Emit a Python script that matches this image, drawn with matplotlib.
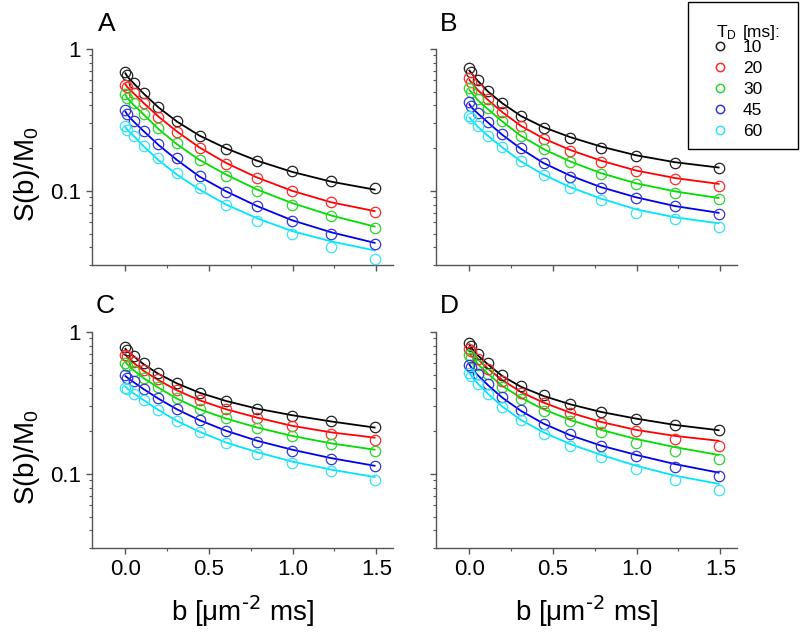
import matplotlib
matplotlib.use('Agg')
import matplotlib.pyplot as plt
from matplotlib.lines import Line2D
from matplotlib.patches import Rectangle
from matplotlib.ticker import FixedLocator, FuncFormatter, LogLocator, NullFormatter

plt.rcParams['font.family'] = ['Liberation Sans', 'DejaVu Sans']
plt.rcParams['mathtext.default'] = 'regular'

# b values [um^-2 ms]
b = [0.0, 0.012, 0.049, 0.111, 0.197, 0.308, 0.443, 0.603, 0.788, 0.997, 1.231, 1.49]
td_labels = ['10', '20', '30', '45', '60']
line_colors = ['black', '#ff0000', '#00dd00', '#0000ee', '#00e5ff']
marker_colors = ['#222222', '#ff2a2a', '#2ed62e', '#3535dd', '#35e5f0']

# measured points (circles), one list per T_D
a_meas = [
    [0.692, 0.656, 0.573, 0.487, 0.393, 0.311, 0.245, 0.198, 0.163, 0.137, 0.118, 0.104],
    [0.558, 0.543, 0.493, 0.414, 0.334, 0.259, 0.199, 0.155, 0.124, 0.099, 0.083, 0.071],
    [0.482, 0.449, 0.414, 0.348, 0.276, 0.217, 0.165, 0.128, 0.099, 0.080, 0.067, 0.055],
    [0.372, 0.348, 0.313, 0.265, 0.214, 0.170, 0.128, 0.098, 0.078, 0.061, 0.050, 0.042],
    [0.287, 0.269, 0.244, 0.207, 0.170, 0.133, 0.104, 0.079, 0.061, 0.050, 0.040, 0.033],
]
b_meas = [
    [0.731, 0.692, 0.605, 0.509, 0.419, 0.339, 0.279, 0.235, 0.202, 0.177, 0.157, 0.146],
    [0.622, 0.589, 0.520, 0.442, 0.362, 0.287, 0.231, 0.191, 0.161, 0.137, 0.121, 0.109],
    [0.528, 0.501, 0.442, 0.382, 0.313, 0.245, 0.197, 0.159, 0.132, 0.112, 0.097, 0.088],
    [0.421, 0.397, 0.356, 0.308, 0.251, 0.202, 0.157, 0.126, 0.104, 0.089, 0.078, 0.069],
    [0.337, 0.325, 0.287, 0.245, 0.205, 0.163, 0.130, 0.104, 0.086, 0.070, 0.063, 0.056],
]
c_meas = [
    [0.785, 0.752, 0.682, 0.600, 0.516, 0.439, 0.373, 0.326, 0.285, 0.256, 0.234, 0.214],
    [0.693, 0.675, 0.613, 0.536, 0.463, 0.390, 0.330, 0.285, 0.249, 0.216, 0.190, 0.173],
    [0.606, 0.580, 0.530, 0.476, 0.411, 0.344, 0.285, 0.247, 0.212, 0.185, 0.162, 0.145],
    [0.497, 0.476, 0.451, 0.398, 0.340, 0.285, 0.240, 0.199, 0.168, 0.145, 0.127, 0.113],
    [0.405, 0.394, 0.367, 0.330, 0.282, 0.236, 0.198, 0.165, 0.139, 0.120, 0.105, 0.091],
]
d_meas = [
    [0.837, 0.802, 0.705, 0.606, 0.497, 0.416, 0.357, 0.309, 0.275, 0.245, 0.220, 0.204],
    [0.760, 0.732, 0.647, 0.550, 0.451, 0.373, 0.314, 0.267, 0.227, 0.199, 0.176, 0.158],
    [0.686, 0.657, 0.590, 0.502, 0.411, 0.339, 0.278, 0.234, 0.196, 0.166, 0.145, 0.127],
    [0.590, 0.565, 0.507, 0.432, 0.348, 0.282, 0.226, 0.190, 0.156, 0.133, 0.112, 0.096],
    [0.516, 0.489, 0.432, 0.367, 0.298, 0.240, 0.192, 0.158, 0.131, 0.108, 0.090, 0.077],
]

# fitted curves (at the same b values)
a_fit = [
    [0.674, 0.638, 0.573, 0.482, 0.388, 0.308, 0.245, 0.199, 0.163, 0.136, 0.116, 0.102],
    [0.564, 0.537, 0.487, 0.414, 0.334, 0.262, 0.202, 0.157, 0.124, 0.100, 0.083, 0.072],
    [0.474, 0.449, 0.403, 0.343, 0.273, 0.213, 0.165, 0.130, 0.102, 0.082, 0.067, 0.056],
    [0.362, 0.343, 0.308, 0.262, 0.211, 0.165, 0.126, 0.099, 0.078, 0.062, 0.051, 0.043],
    [0.281, 0.269, 0.244, 0.205, 0.165, 0.130, 0.102, 0.080, 0.064, 0.052, 0.044, 0.038],
]
b_fit = [
    [0.704, 0.674, 0.598, 0.501, 0.414, 0.337, 0.281, 0.239, 0.205, 0.178, 0.159, 0.146],
    [0.605, 0.579, 0.515, 0.437, 0.358, 0.287, 0.234, 0.194, 0.163, 0.139, 0.123, 0.112],
    [0.515, 0.493, 0.437, 0.376, 0.308, 0.244, 0.197, 0.161, 0.133, 0.113, 0.099, 0.089],
    [0.408, 0.388, 0.352, 0.303, 0.248, 0.198, 0.157, 0.128, 0.106, 0.090, 0.078, 0.070],
    [0.329, 0.316, 0.284, 0.244, 0.202, 0.161, 0.130, 0.106, 0.088, 0.074, 0.065, 0.059],
]
c_fit = [
    [0.760, 0.732, 0.675, 0.590, 0.507, 0.434, 0.373, 0.326, 0.288, 0.259, 0.234, 0.212],
    [0.693, 0.664, 0.606, 0.530, 0.458, 0.388, 0.330, 0.285, 0.249, 0.218, 0.196, 0.180],
    [0.613, 0.590, 0.538, 0.471, 0.405, 0.339, 0.285, 0.245, 0.212, 0.185, 0.164, 0.148],
    [0.489, 0.476, 0.443, 0.394, 0.339, 0.285, 0.239, 0.201, 0.171, 0.148, 0.129, 0.114],
    [0.411, 0.398, 0.369, 0.330, 0.282, 0.236, 0.198, 0.166, 0.142, 0.122, 0.107, 0.095],
]
d_fit = [
    [0.815, 0.772, 0.686, 0.590, 0.489, 0.411, 0.354, 0.309, 0.273, 0.245, 0.221, 0.203],
    [0.772, 0.744, 0.647, 0.550, 0.458, 0.377, 0.318, 0.270, 0.232, 0.204, 0.185, 0.171],
    [0.705, 0.675, 0.596, 0.507, 0.416, 0.344, 0.285, 0.240, 0.204, 0.176, 0.154, 0.136],
    [0.590, 0.559, 0.497, 0.422, 0.344, 0.278, 0.226, 0.187, 0.158, 0.136, 0.117, 0.102],
    [0.516, 0.489, 0.434, 0.367, 0.298, 0.240, 0.196, 0.162, 0.136, 0.114, 0.097, 0.085],
]

W, H = 800, 637
fig = plt.figure(figsize=(W / 100, H / 100), dpi=100)


def fx(px):
    return px / W


def fy(py):
    return 1 - py / H


# name, meas, fit, (left, top, width, height) in px, letter position, show y labels, show x labels
panels = [
    ('A', a_meas, a_fit, (92, 49, 301, 216), (98, 31), True, False),
    ('B', b_meas, b_fit, (436, 49, 301, 216), (440, 31), False, False),
    ('C', c_meas, c_fit, (92, 332, 301, 216), (96, 313), True, True),
    ('D', d_meas, d_fit, (436, 332, 301, 216), (440, 313), False, True),
]

spine_col = '#555555'

for name, meas, fit, (l, t, w, h), (lx, ly), show_y, show_x in panels:
    ax = fig.add_axes([fx(l), fy(t + h), w / W, h / H])
    for k in range(5):
        ax.plot(b, fit[k], color=line_colors[k], lw=1.3, zorder=2)
        ax.plot(b, meas[k], ls='none', marker='o', ms=7.5, mfc='none',
                mec=marker_colors[k], mew=0.9, zorder=3)
    ax.set_yscale('log')
    ax.set_ylim(0.03, 1)
    ax.set_xlim(-0.2, 1.6)

    ax.yaxis.set_major_locator(FixedLocator([0.1, 1]))
    ax.yaxis.set_major_formatter(FuncFormatter(lambda v, p: '1' if v >= 1 else '0.1'))
    ax.yaxis.set_minor_locator(LogLocator(subs=range(2, 10)))
    ax.yaxis.set_minor_formatter(NullFormatter())
    ax.xaxis.set_major_locator(FixedLocator([0, 0.5, 1.0, 1.5]))
    ax.xaxis.set_major_formatter(FuncFormatter(lambda v, p: '%.1f' % v))
    ax.xaxis.set_minor_locator(FixedLocator([0.25, 0.75, 1.25]))

    for s in ['top', 'right']:
        ax.spines[s].set_visible(False)
    for s in ['left', 'bottom']:
        ax.spines[s].set_color(spine_col)
        ax.spines[s].set_linewidth(1.0)
    ax.tick_params(which='major', direction='out', length=4, width=1.0, color=spine_col,
                   labelsize=16, pad=4, labelleft=show_y, labelbottom=show_x)
    ax.tick_params(which='minor', direction='out', length=2.5, width=0.8, color=spine_col)

    fig.text(fx(lx), fy(ly), name, fontsize=19, ha='left', va='baseline')
    if show_y:
        fig.text(fx(27), fy(t + 125), 'S(b)/M$_0$', rotation=90,
                 fontsize=20, ha='center', va='center')
    if show_x:
        fig.text(fx(l + w / 2), fy(621), r'b [μm$^{\text{-2}}$ ms]', fontsize=20,
                 ha='center', va='baseline')

# legend box drawn by hand to match the boxed key
fig.add_artist(Rectangle((fx(688), fy(149)), 110 / W, 147 / H, transform=fig.transFigure,
                         fill=False, ec='black', lw=1.0))
fig.text(fx(716), fy(37), 'T$_D$', fontsize=12.5, ha='left', va='baseline')
fig.text(fx(743), fy(37), '[ms]:', fontsize=12.5, ha='left', va='baseline')
for k in range(5):
    base = 52 + 21 * k
    fig.add_artist(Line2D([fx(719.5)], [fy(base - 6)], transform=fig.transFigure, ls='none',
                          marker='o', ms=6, mfc='none', mec=marker_colors[k], mew=1.1))
    fig.text(fx(743), fy(base), td_labels[k], fontsize=12.5, ha='left', va='baseline')

fig.savefig('out.png', dpi=100)
